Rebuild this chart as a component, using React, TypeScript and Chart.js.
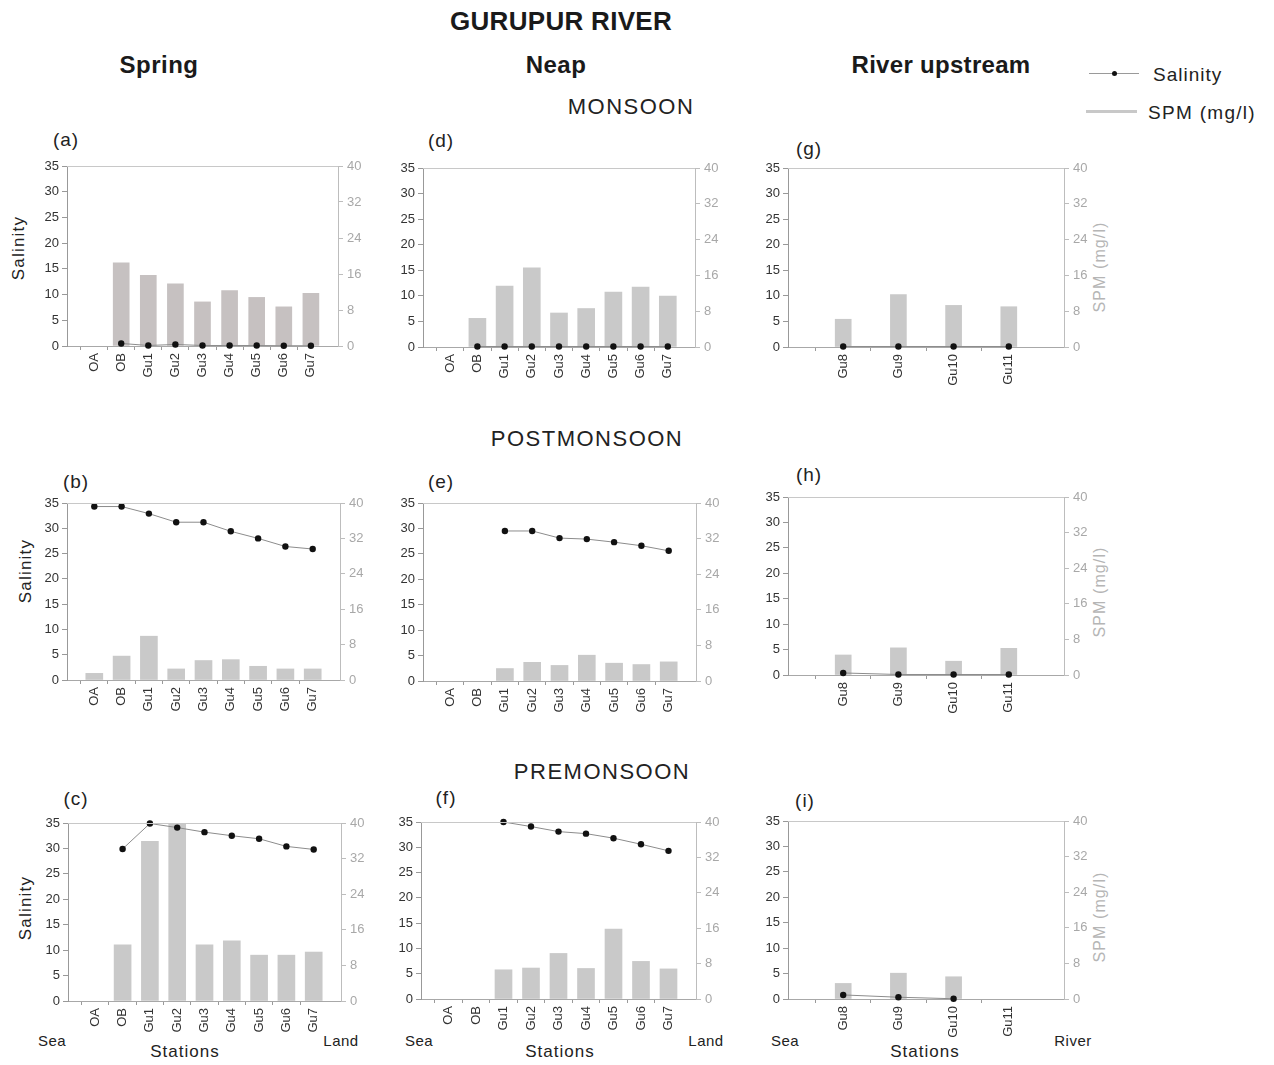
import React, { useEffect, useRef } from "react";
import { Chart, registerables } from "chart.js";

Chart.register(...registerables);

// ---- stations ----
const estuaryStations = ["OA", "OB", "Gu1", "Gu2", "Gu3", "Gu4", "Gu5", "Gu6", "Gu7"];
const upstreamStations = ["Gu8", "Gu9", "Gu10", "Gu11"];

// ---- axis ticks ----
const salinityTicks = { min: 0, max: 35, step: 5 };
const spmTicks = { min: 0, max: 40, step: 8 };

// ---- Monsoon ----
const salinitySpringMonsoon = [null, 0.5, 0.1, 0.3, 0.1, 0.1, 0.1, 0.05, 0.05];
const spmSpringMonsoon = [null, 18.5, 15.7, 13.8, 9.8, 12.3, 10.8, 8.7, 11.7];
const salinityNeapMonsoon = [null, 0.1, 0.1, 0.1, 0.1, 0.1, 0.1, 0.1, 0.1];
const spmNeapMonsoon = [null, 6.4, 13.6, 17.7, 7.6, 8.6, 12.3, 13.4, 11.4];
const salinityUpstreamMonsoon = [0.1, 0.1, 0.1, 0.1];
const spmUpstreamMonsoon = [6.2, 11.7, 9.3, 9.0];

// ---- Postmonsoon ----
const salinitySpringPost = [34.3, 34.3, 32.9, 31.2, 31.2, 29.4, 28.0, 26.4, 25.9];
const spmSpringPost = [1.5, 5.4, 9.9, 2.5, 4.4, 4.6, 3.1, 2.5, 2.5];
const salinityNeapPost = [null, null, 29.5, 29.5, 28.1, 27.9, 27.3, 26.6, 25.6];
const spmNeapPost = [null, null, 2.8, 4.2, 3.5, 5.8, 4.0, 3.7, 4.3];
const salinityUpstreamPost = [0.4, 0.1, 0.1, 0.1];
const spmUpstreamPost = [4.5, 6.1, 3.1, 6.0];

// ---- Premonsoon ----
const salinitySpringPre = [null, 29.9, 34.9, 34.1, 33.2, 32.5, 31.9, 30.4, 29.8];
const spmSpringPre = [null, 12.6, 35.9, 40, 12.6, 13.5, 10.3, 10.3, 11.0];
const salinityNeapPre = [null, null, 35.0, 34.1, 33.1, 32.7, 31.8, 30.6, 29.3];
const spmNeapPre = [null, null, 6.6, 7.0, 10.3, 6.9, 15.8, 8.5, 6.8];
const salinityUpstreamPre = [0.8, 0.35, 0.05, null];
const spmUpstreamPre = [3.5, 5.8, 5.0, null];

const FONT = "'Liberation Sans', Arial, Helvetica, sans-serif";
const PAD_L = 60;
const PAD_R = 60;
const PAD_T = 12;
const PAD_B = 52;

type Rect = { l: number; t: number; r: number; b: number };

type PanelProps = {
  rect: Rect;
  stations: string[];
  salinity: (number | null)[];
  spm: (number | null)[];
  barColor: string;
  barThickness: number;
};

// thin line closing the top of the plot frame
const frameTop = {
  id: "frameTop",
  afterDraw(chart: any) {
    const { ctx, chartArea } = chart;
    ctx.save();
    ctx.strokeStyle = "#c8c8c8";
    ctx.lineWidth = 1;
    ctx.beginPath();
    ctx.moveTo(chartArea.left, chartArea.top + 0.5);
    ctx.lineTo(chartArea.right, chartArea.top + 0.5);
    ctx.stroke();
    ctx.restore();
  },
};

function Panel({ rect, stations, salinity, spm, barColor, barThickness }: PanelProps) {
  const ref = useRef<HTMLCanvasElement | null>(null);
  const width = rect.r - rect.l + PAD_L + PAD_R;
  const height = rect.b - rect.t + PAD_T + PAD_B;

  useEffect(() => {
    if (!ref.current) return;
    // one empty slot at each end keeps a full station spacing to the frame
    const labels = ["", ...stations, ""];
    const last = labels.length - 1;
    const chart = new Chart(ref.current, {
      type: "bar",
      data: {
        labels,
        datasets: [
          {
            type: "line",
            label: "Salinity",
            data: [null, ...salinity, null],
            yAxisID: "y",
            borderColor: "#8c8c8c",
            borderWidth: 1,
            pointRadius: 3.2,
            pointBackgroundColor: "#111",
            pointBorderColor: "#111",
            pointBorderWidth: 0,
            order: 0,
            clip: false,
          } as any,
          {
            type: "bar",
            label: "SPM (mg/l)",
            data: [null, ...spm, null],
            yAxisID: "y2",
            backgroundColor: barColor,
            borderWidth: 0,
            barThickness,
            order: 1,
          } as any,
        ],
      },
      options: {
        animation: false,
        responsive: false,
        events: [],
        layout: { padding: { top: PAD_T, left: 0, right: 0, bottom: 0 } },
        plugins: {
          legend: { display: false },
          tooltip: { enabled: false },
        },
        scales: {
          x: {
            type: "category",
            offset: false,
            grid: {
              drawOnChartArea: false,
              drawTicks: true,
              tickLength: 4,
              color: (c: any) => (c.index === 0 || c.index === last ? "rgba(0,0,0,0)" : "#9a9a9a"),
            },
            border: { color: "#a8a8a8", width: 1 },
            ticks: {
              autoSkip: false,
              maxRotation: 90,
              minRotation: 90,
              padding: 3,
              color: "#333",
              font: { family: FONT, size: 13 },
            },
            afterFit: (s: any) => {
              s.height = PAD_B;
            },
          },
          y: {
            position: "left",
            min: salinityTicks.min,
            max: salinityTicks.max,
            ticks: {
              stepSize: salinityTicks.step,
              padding: 3,
              color: "#333",
              font: { family: FONT, size: 13 },
            },
            grid: { drawOnChartArea: false, tickLength: 5, color: "#999" },
            border: { color: "#999", width: 1 },
            afterFit: (s: any) => {
              s.width = PAD_L;
            },
          },
          y2: {
            position: "right",
            min: spmTicks.min,
            max: spmTicks.max,
            ticks: {
              stepSize: spmTicks.step,
              padding: 4,
              color: "#a8a8a8",
              font: { family: FONT, size: 13 },
            },
            grid: { drawOnChartArea: false, tickLength: 5, color: "#bdbdbd" },
            border: { color: "#bdbdbd", width: 1 },
            afterFit: (s: any) => {
              s.width = PAD_R;
            },
          },
        },
      } as any,
      plugins: [frameTop],
    });
    return () => chart.destroy();
  }, [stations, salinity, spm, barColor, barThickness]);

  return (
    <canvas
      ref={ref}
      width={width}
      height={height}
      style={{
        position: "absolute",
        left: rect.l - PAD_L,
        top: rect.t - PAD_T,
        width,
        height,
      }}
    />
  );
}

type TxtProps = {
  x: number;
  y: number;
  size: number;
  text: string;
  bold?: boolean;
  color?: string;
  ls?: number;
  anchor?: "left" | "center";
};

function Txt({ x, y, size, text, bold, color, ls, anchor = "center" }: TxtProps) {
  const tx = anchor === "center" ? "-50%" : "0";
  return (
    <div
      style={{
        position: "absolute",
        left: x,
        top: y,
        transform: `translate(${tx}, -50%)`,
        fontFamily: FONT,
        fontSize: size,
        fontWeight: bold ? "bold" : "normal",
        color: color || "#222",
        letterSpacing: ls ? `${ls}px` : undefined,
        lineHeight: 1,
        whiteSpace: "nowrap",
      }}
    >
      {text}
    </div>
  );
}

function VTxt({ x, y, size, text, color, ls }: TxtProps) {
  return (
    <div
      style={{
        position: "absolute",
        left: x,
        top: y,
        transform: "translate(-50%, -50%) rotate(-90deg)",
        fontFamily: FONT,
        fontSize: size,
        color: color || "#222",
        letterSpacing: ls ? `${ls}px` : undefined,
        lineHeight: 1,
        whiteSpace: "nowrap",
      }}
    >
      {text}
    </div>
  );
}

export default function App() {
  useEffect(() => {
    document.body.style.margin = "0";
    document.body.style.overflow = "hidden";
  }, []);

  const barGrey = "#c9c9c9";

  return (
    <div
      style={{
        position: "absolute",
        left: 0,
        top: 0,
        width: 1274,
        height: 1065,
        background: "#fff",
        overflow: "hidden",
      }}
    >
      {/* headings */}
      <Txt x={561} y={21} size={26} bold text="GURUPUR RIVER" color="#1a1a1a" ls={0.3} />
      <Txt x={159} y={65} size={24} bold text="Spring" color="#1a1a1a" ls={0.5} />
      <Txt x={556} y={65} size={24} bold text="Neap" color="#1a1a1a" ls={0.5} />
      <Txt x={941} y={65} size={24} bold text="River upstream" color="#1a1a1a" ls={0.3} />
      <Txt x={631} y={107} size={22} text="MONSOON" color="#222" ls={1.5} />
      <Txt x={587} y={439} size={22} text="POSTMONSOON" color="#222" ls={1.5} />
      <Txt x={602} y={772} size={22} text="PREMONSOON" color="#222" ls={1.5} />

      {/* legend */}
      <div style={{ position: "absolute", left: 1089, top: 73, width: 50, height: 1, background: "#9a9a9a" }} />
      <div
        style={{
          position: "absolute",
          left: 1112,
          top: 71,
          width: 5,
          height: 5,
          borderRadius: "50%",
          background: "#111",
        }}
      />
      <Txt x={1153} y={74} size={19} text="Salinity" anchor="left" ls={1} />
      <div style={{ position: "absolute", left: 1086, top: 110, width: 51, height: 3, background: "#c8c8c8" }} />
      <Txt x={1148} y={112} size={19} text="SPM (mg/l)" anchor="left" ls={1.3} />

      {/* panel letters */}
      <Txt x={66} y={139} size={19} text="(a)" ls={1} />
      <Txt x={76} y={481} size={19} text="(b)" ls={1} />
      <Txt x={76} y={798} size={19} text="(c)" ls={1} />
      <Txt x={441} y={140} size={19} text="(d)" ls={1} />
      <Txt x={441} y={481} size={19} text="(e)" ls={1} />
      <Txt x={446} y={797} size={19} text="(f)" ls={1} />
      <Txt x={809} y={148} size={19} text="(g)" ls={1} />
      <Txt x={809} y={474} size={19} text="(h)" ls={1} />
      <Txt x={805} y={800} size={19} text="(i)" ls={1} />

      {/* axis titles */}
      <VTxt x={18} y={248} size={17} text="Salinity" ls={1.2} />
      <VTxt x={25} y={571} size={17} text="Salinity" ls={1.2} />
      <VTxt x={25} y={908} size={17} text="Salinity" ls={1.2} />
      <VTxt x={1100} y={267} size={16} text="SPM (mg/l)" color="#b5b5b5" ls={1.1} />
      <VTxt x={1100} y={592} size={16} text="SPM (mg/l)" color="#b5b5b5" ls={1.1} />
      <VTxt x={1100} y={917} size={16} text="SPM (mg/l)" color="#b5b5b5" ls={1.1} />

      <Txt x={52} y={1040} size={15} text="Sea" ls={0.5} />
      <Txt x={341} y={1040} size={15} text="Land" ls={0.5} />
      <Txt x={185} y={1051} size={17} text="Stations" ls={1} />
      <Txt x={419} y={1040} size={15} text="Sea" ls={0.5} />
      <Txt x={706} y={1040} size={15} text="Land" ls={0.5} />
      <Txt x={560} y={1051} size={17} text="Stations" ls={1} />
      <Txt x={785} y={1040} size={15} text="Sea" ls={0.5} />
      <Txt x={1073} y={1040} size={15} text="River" ls={0.5} />
      <Txt x={925} y={1051} size={17} text="Stations" ls={1} />

      {/* Monsoon row */}
      <Panel rect={{ l: 67, t: 166, r: 338, b: 346 }} stations={estuaryStations} salinity={salinitySpringMonsoon} spm={spmSpringMonsoon} barColor="#c6c1c1" barThickness={16} />
      <Panel rect={{ l: 423, t: 168, r: 695, b: 347 }} stations={estuaryStations} salinity={salinityNeapMonsoon} spm={spmNeapMonsoon} barColor={barGrey} barThickness={17} />
      <Panel rect={{ l: 788, t: 168, r: 1064, b: 347 }} stations={upstreamStations} salinity={salinityUpstreamMonsoon} spm={spmUpstreamMonsoon} barColor={barGrey} barThickness={16} />

      {/* Postmonsoon row */}
      <Panel rect={{ l: 67, t: 503, r: 340, b: 680 }} stations={estuaryStations} salinity={salinitySpringPost} spm={spmSpringPost} barColor={barGrey} barThickness={17} />
      <Panel rect={{ l: 423, t: 503, r: 696, b: 681 }} stations={estuaryStations} salinity={salinityNeapPost} spm={spmNeapPost} barColor={barGrey} barThickness={17} />
      <Panel rect={{ l: 788, t: 497, r: 1064, b: 675 }} stations={upstreamStations} salinity={salinityUpstreamPost} spm={spmUpstreamPost} barColor={barGrey} barThickness={16} />

      {/* Premonsoon row */}
      <Panel rect={{ l: 68, t: 823, r: 341, b: 1001 }} stations={estuaryStations} salinity={salinitySpringPre} spm={spmSpringPre} barColor={barGrey} barThickness={17} />
      <Panel rect={{ l: 421, t: 822, r: 696, b: 999 }} stations={estuaryStations} salinity={salinityNeapPre} spm={spmNeapPre} barColor={barGrey} barThickness={17} />
      <Panel rect={{ l: 788, t: 821, r: 1064, b: 999 }} stations={upstreamStations} salinity={salinityUpstreamPre} spm={spmUpstreamPre} barColor={barGrey} barThickness={16} />
    </div>
  );
}
